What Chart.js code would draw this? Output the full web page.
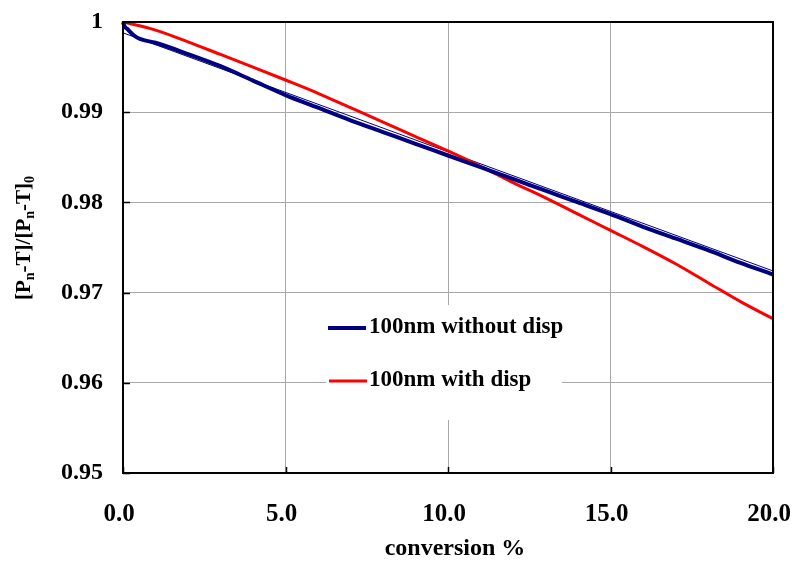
<!DOCTYPE html>
<html>
<head>
<meta charset="utf-8">
<script src="https://cdn.jsdelivr.net/npm/chart.js@4.4.1/dist/chart.umd.min.js"></script>
<style>
  html, body { margin: 0; padding: 0; background: #fff; }
  #wrap { width: 794px; height: 564px; }
</style>
</head>
<body>
<div id="wrap"><canvas id="convChart" width="794" height="564"></canvas></div>
<script>
// values
var convWithout = [0, 0.05, 0.11, 0.32, 0.52, 1, 2, 3, 4, 5, 6, 7, 8, 9, 10, 11, 12, 13, 14, 15, 16, 17, 18, 19, 20, 20.15];
var withoutDisp = [1.0, 0.9995, 0.9993, 0.99856, 0.99812, 0.9977, 0.99645, 0.9951, 0.9935, 0.9919, 0.9905, 0.9891, 0.9878, 0.9865, 0.9852, 0.9839, 0.9826, 0.9813, 0.9800, 0.9787, 0.9773, 0.9760, 0.9747, 0.9733, 0.9720, 0.9718];

var convWith = [0, 1, 2, 3, 4, 5, 6, 7, 8, 9, 10, 11, 12, 13, 14, 15, 16, 17, 18, 19, 20];
var withDisp = [1.0, 0.9991, 0.9978, 0.9964, 0.9950, 0.99357, 0.9921, 0.9905, 0.9889, 0.9873, 0.9857, 0.9840, 0.9822, 0.9805, 0.9787, 0.9769, 0.9751, 0.9732, 0.9711, 0.9690, 0.9671];

// thin straight line under the blue curve
var fitX = [0, 20];
var fitY = [0.9988, 0.9724];

var seriesLabels = ['100nm without disp', '100nm with disp'];
var xTicks = [0, 5, 10, 15, 20];
var yTicks = [0.95, 0.96, 0.97, 0.98, 0.99, 1];

function pts(xs, ys) {
    return xs.map(function (x, i) { return { x: x, y: ys[i] }; });
}

var SERIF = "'Liberation Serif', 'Times New Roman', serif";

var extras = {
    id: 'extras',
    afterDatasetsDraw: function (chart) {
        var c = chart.ctx, a = chart.chartArea;
        var xs = chart.scales.x, ys = chart.scales.y;
        c.save();

        // white box behind legend
        c.fillStyle = '#fff';
        c.fillRect(326, 305, 236, 115);

        // legend
        var rows = [
            { y: 328, x0: 328, x1: 366, color: '#000080', w: 4, text: seriesLabels[0] },
            { y: 381, x0: 329, x1: 367, color: '#ff0000', w: 3, text: seriesLabels[1] }
        ];
        c.font = 'bold 23px ' + SERIF;
        c.textBaseline = 'middle';
        c.textAlign = 'left';
        rows.forEach(function (r) {
            c.strokeStyle = r.color;
            c.lineWidth = r.w;
            c.beginPath();
            c.moveTo(r.x0, r.y);
            c.lineTo(r.x1, r.y);
            c.stroke();
            c.fillStyle = '#000';
            c.fillText(r.text, 369, r.y - 1);
        });

        // frame + inside ticks
        c.strokeStyle = '#000';
        c.lineWidth = 2;
        c.strokeRect(a.left, a.top, a.right - a.left, a.bottom - a.top);
        c.lineWidth = 1.5;
        c.beginPath();
        yTicks.forEach(function (v) {
            var py = Math.round(ys.getPixelForValue(v)) + 0.5;
            c.moveTo(a.left, py);
            c.lineTo(a.left + 7, py);
        });
        xTicks.forEach(function (v) {
            var px = Math.round(xs.getPixelForValue(v)) + 0.5;
            c.moveTo(px, a.bottom);
            c.lineTo(px, a.bottom - 6);
        });
        c.stroke();

        // x title
        c.fillStyle = '#000';
        c.font = 'bold 24px ' + SERIF;
        c.textAlign = 'center';
        c.textBaseline = 'middle';
        c.fillText('conversion %', 455, 549);

        // y title with subscripts
        var parts = [
            ['[P', 0], ['n', 1], ['-T]/[P', 0], ['n', 1], ['-T]', 0], ['0', 1]
        ];
        var big = 'bold 21px ' + SERIF, small = 'bold 14px ' + SERIF;
        var total = 0;
        parts.forEach(function (p) {
            c.font = p[1] ? small : big;
            total += c.measureText(p[0]).width;
        });
        c.translate(23, 238);
        c.rotate(-Math.PI / 2);
        c.textAlign = 'left';
        c.textBaseline = 'alphabetic';
        var cx = -total / 2;
        parts.forEach(function (p) {
            c.font = p[1] ? small : big;
            c.fillText(p[0], cx, p[1] ? 11 : 7);
            cx += c.measureText(p[0]).width;
        });
        c.restore();
    }
};

var ctx = document.getElementById('convChart').getContext('2d');
var convChart = new Chart(ctx, {
    type: 'scatter',
    data: {
        datasets: [{
            label: seriesLabels[0],
            data: pts(convWithout, withoutDisp),
            showLine: true,
            borderColor: '#000080',
            borderWidth: 4,
            pointRadius: 0,
            cubicInterpolationMode: 'monotone',
            clip: false
        }, {
            label: seriesLabels[1],
            data: pts(convWith, withDisp),
            showLine: true,
            borderColor: '#ff0000',
            borderWidth: 3,
            pointRadius: 0,
            cubicInterpolationMode: 'monotone'
        }, {
            label: 'fit',
            data: pts(fitX, fitY),
            showLine: true,
            borderColor: '#000080',
            borderWidth: 1,
            pointRadius: 0
        }]
    },
    options: {
        responsive: false,
        animation: false,
        layout: { padding: { top: 22, right: 21, left: 0, bottom: 0 } },
        plugins: {
            legend: { display: false },
            tooltip: { enabled: false }
        },
        scales: {
            x: {
                type: 'linear',
                min: 0,
                max: 20,
                afterBuildTicks: function (s) { s.ticks = xTicks.map(function (v) { return { value: v }; }); },
                afterFit: function (s) {
                    s.height = 91;
                    s.paddingLeft = 0; s.paddingRight = 0;
                },
                grid: { color: '#a8a8a8', lineWidth: 1, drawTicks: false },
                border: { display: false },
                ticks: {
                    padding: 27,
                    labelOffset: -4,
                    color: '#000',
                    font: { family: SERIF, size: 25, weight: 'bold' },
                    callback: function (v) { return v.toFixed(1); }
                }
            },
            y: {
                min: 0.95,
                max: 1,
                afterBuildTicks: function (s) { s.ticks = yTicks.map(function (v) { return { value: v }; }); },
                afterFit: function (s) {
                    s.width = 123;
                    s.paddingTop = 0; s.paddingBottom = 0;
                },
                grid: { color: '#a8a8a8', lineWidth: 1, drawTicks: false },
                border: { display: false },
                ticks: {
                    padding: 20,
                    color: '#000',
                    font: { family: SERIF, size: 24, weight: 'bold' },
                    callback: function (v) { return v === 1 ? '1' : v.toFixed(2); }
                }
            }
        }
    },
    plugins: [extras]
});
</script>
</body>
</html>
